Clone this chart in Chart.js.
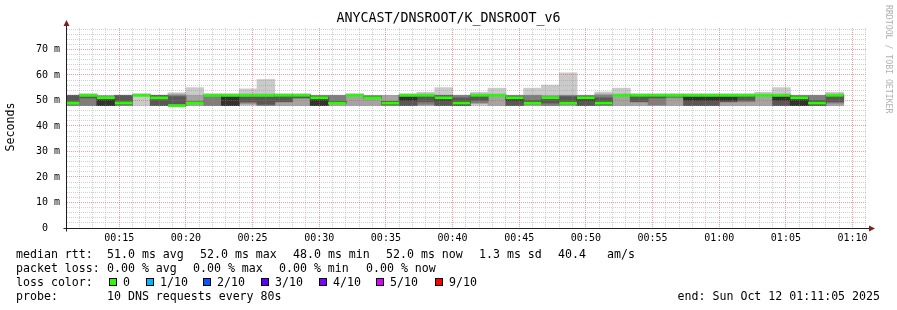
<!DOCTYPE html>
<html><head><meta charset="utf-8">
<script src="https://cdn.jsdelivr.net/npm/chart.js@4/dist/chart.umd.min.js"></script>
<style>html,body{margin:0;padding:0;background:#fff}#wrap{width:897px;height:310px}</style>
</head><body><div id="wrap"><canvas id="c" width="897" height="310"></canvas></div>
<script>
// ---- data -------------------------------------------------------------
const chartTitle = 'ANYCAST/DNSROOT/K_DNSROOT_v6';
const windowStart = '00:11:05';
const windowEnd = '01:11:05';
const stepSeconds = 80;
// end time of each 80 s probe round
const stepEnds = ['00:12:00','00:13:20','00:14:40','00:16:00','00:17:20','00:18:40','00:20:00','00:21:20','00:22:40','00:24:00',
  '00:25:20','00:26:40','00:28:00','00:29:20','00:30:40','00:32:00','00:33:20','00:34:40','00:36:00','00:37:20',
  '00:38:40','00:40:00','00:41:20','00:42:40','00:44:00','00:45:20','00:46:40','00:48:00','00:49:20','00:50:40',
  '00:52:00','00:53:20','00:54:40','00:56:00','00:57:20','00:58:40','01:00:00','01:01:20','01:02:40','01:04:00',
  '01:05:20','01:06:40','01:08:00','01:09:20'];
// sorted ping results (ms) of each round, ping1 = fastest ... ping10 = slowest
const ping1 = [48,48,48,48,48,48,47.5,48,48,48, 48,48,48,48,48,48,48,48,48,48, 48,48,48,48,48,48,48,48,48,48, 48,48,48,48,48,48,48,48,48,48, 48,48,48,48];
const ping2 = [48,48,48,48,52,48,48,48,48,48, 48.5,48,48,48,48,48,48,48,48,48, 48,48,48,49,48,48,48,48,48,48, 48,48,48,48,48,48,48,48,48,48, 48,48,48,48];
const ping3 = [48,48,48,48,52,48,48,49,48,48, 49,48,49.5,51,48,49,52,50.8,48,48, 48.5,48,48,49,52,48,48.5,48,48.5,48, 48,52,49.5,48.2,51,48,48,49.5,49.5,52, 48,48,48,49];
const ping4 = [49,51,48,48.5,52,48,48,49,52,48, 49.5,48.5,49.5,51,48,49,52,51,48.5,48, 49.5,48,48,50,52,48,49,49,49,48, 48.5,52,49.5,51,51.5,48,48,49.5,50,52, 48,48,48,49.5];
const ping5 = [49,52,48,49,52,51,48,49,52,48, 52,52,51.5,51.5,48,49,52,51,49,50, 51.5,50,49,51.5,52,50,49,50.5,49,50, 49,52,51.5,51.5,52,50,50,50,51.5,52, 50,48,49,51.5];
const ping6 = [49,52,50.5,49,52,51,48,49,52,52, 52,52,52,52,51,49.5,52,51,49.5,52, 52,51,49.5,52,52,51,49.5,51,49.5,51, 49.5,52,52,52,52,52,52,52,52,52, 52,51,49.5,52];
const ping7 = [52,52,51,52,52,52,51.5,49.5,52,52, 52,52,52,52,51.5,49.5,52,51.5,49.5,52, 52,52,51,52,52,51.5,50,51,51.5,51.5, 51,52,52,52,52,52,52,52,52,52, 52,51.5,50,52];
const ping8 = [52,52,51.5,52,52,52,52,49.5,52,52, 52,52,52,52,52,52,52,51.8,49.5,52, 52,52,52,52,52,52,52,51.5,52,52, 52,52,52,52,52,52,52,52,52,52, 52,52,52,52];
const ping9 = [52,52.5,52,52,52.5,52,52.5,52,52.5,52.5, 52.5,52.5,52.5,52.5,52,52,52.5,52,52,52.5, 52.5,52,52,52.5,52.5,52,52,52,52,52, 52.5,52.5,52.5,52.5,52.5,52.5,52.5,52.5,52.5,52.5, 52.5,52,52,52.5];
const ping10 = [52,52.5,52,52,52.5,52,53,55,52.5,52.5, 54.5,58.2,52.5,52.5,52,52,52.5,52,52,52.5, 53.2,55,52,53.2,54.8,52,54.8,56,60.8,52, 53.3,54.8,52.5,52.5,52.5,52.5,52.5,52.5,52.5,53.2, 55,52,52,53.2];
// median rtt of each round (ms)
const medianRtt = [49,52,51,49,52,51,48,49,52,52, 52,52,52,52,51,49,52,51,49,52, 52,51,49,52,52,51,49,51,49,51, 49,52,52,52,52,52,52,52,52,52, 52,51,49,52];
const xTickLabels = ['00:15','00:20','00:25','00:30','00:35','00:40','00:45','00:50','00:55','01:00','01:05','01:10'];
const yTickValues = [0,10,20,30,40,50,60,70];
const yTickLabels = ['0  ','10 m','20 m','30 m','40 m','50 m','60 m','70 m'];
const yMax = 78.4;
const lossLabels = ['0','1/10','2/10','3/10','4/10','5/10','9/10'];
const lossColors = ['#26ff00','#00b8ff','#0059ff','#5e00ff','#7e00ff','#dd00ff','#ff0000'];
const statsRtt = ['51.0 ms avg','52.0 ms max','48.0 ms min','52.0 ms now','1.3 ms sd','40.4','am/s'];
const statsLoss = ['0.00 % avg','0.00 % max','0.00 % min','0.00 % now'];
const probeText = '10 DNS requests every 80s';
const endText = 'end: Sun Oct 12 01:11:05 2025';

// ---- styles -----------------------------------------------------------
const MONO = "'DejaVu Sans Mono', monospace";
const GRID = 'rgba(143,143,143,0.42)';
const MGRID = 'rgba(222,79,79,0.55)';
const AXIS = '#1f1f1f';
const ARROW = '#801f1f';
const smokeColors = ['#cacaca','#a4a4a4','#7e7e7e','#585858','#323232'];

function toSec(s){ const p = s.split(':').map(Number); return p[0]*3600 + p[1]*60 + (p[2]||0); }
const T0 = toSec(windowStart), T1 = toSec(windowEnd);
const pings = [ping1,ping2,ping3,ping4,ping5,ping6,ping7,ping8,ping9,ping10];
const centers = stepEnds.map(t => toSec(t) - stepSeconds/2);
const majorSecs = xTickLabels.map(toSec);

const common = {type:'bar', grouped:false, barPercentage:1, categoryPercentage:1, borderWidth:0, clip:0, xAxisID:'x', yAxisID:'y'};
const datasets = [];
datasets.push(Object.assign({}, common, {
  label:'median rtt', order:0, inflateAmount:0, backgroundColor: lossColors[0],
  data: centers.map((x,k) => ({x, y:[medianRtt[k]-0.55, medianRtt[k]+0.55]}))
}));
smokeColors.forEach((col,i) => {
  datasets.push(Object.assign({}, common, {
    label:'smoke'+(i+1), order:10-i, inflateAmount:0.4, backgroundColor: col,
    data: centers.map((x,k) => {
      const lo = pings[i][k], hi = pings[9-i][k];
      return {x, y: (hi-lo) > 0.01 ? [lo,hi] : null};
    })
  }));
});

function txt(c, s, x, y, font, color, align){
  c.font = font; c.fillStyle = color; c.textAlign = align || 'left'; c.textBaseline = 'middle';
  c.fillText(s, x, y);
}

const frame = {
  id:'frame',
  beforeDraw(chart){ const c = chart.ctx; c.save(); c.fillStyle = '#fff'; c.fillRect(0,0,chart.width,chart.height); c.restore(); },
  afterDraw(chart){
    const c = chart.ctx, a = chart.chartArea;
    const y0 = Math.round(chart.scales.y.getPixelForValue(0)) + 0.5;
    const xl = Math.round(a.left) - 0.5;
    c.save();
    c.strokeStyle = AXIS; c.lineWidth = 1;
    c.beginPath(); c.moveTo(xl, y0 + 3); c.lineTo(xl, a.top - 4); c.stroke();
    c.beginPath(); c.moveTo(xl - 3, y0); c.lineTo(a.right + 3, y0); c.stroke();
    c.fillStyle = ARROW;
    c.beginPath(); c.moveTo(xl - 3, a.top - 2); c.lineTo(xl + 3, a.top - 2); c.lineTo(xl, a.top - 8); c.closePath(); c.fill();
    c.beginPath(); c.moveTo(a.right + 2, y0 - 3); c.lineTo(a.right + 2, y0 + 3); c.lineTo(a.right + 8, y0); c.closePath(); c.fill();

    const TF = '13.3px ' + MONO, LF = '11.6px ' + MONO;
    txt(c, chartTitle, chart.width/2, 19, TF, '#000', 'center');
    c.save(); c.translate(11, 127); c.rotate(-Math.PI/2); txt(c, 'Seconds', 0, 0, LF, '#000', 'center'); c.restore();
    c.save(); c.translate(888, 5); c.rotate(Math.PI/2); txt(c, 'RRDTOOL / TOBI OETIKER', 0, 0, '8.2px ' + MONO, '#b0b0b0', 'left'); c.restore();

    const r1 = 254.5, r2 = 268.5, r3 = 282.5, r4 = 296.5;
    txt(c, 'median rtt:', 16, r1, LF, '#000');
    const rttX = [107, 200, 293, 386, 479, 558, 607];
    statsRtt.forEach((s,i) => txt(c, s, rttX[i], r1, LF, '#000'));
    txt(c, 'packet loss:', 16, r2, LF, '#000');
    const lossX = [107, 193, 279, 366];
    statsLoss.forEach((s,i) => txt(c, s, lossX[i], r2, LF, '#000'));
    txt(c, 'loss color:', 16, r3, LF, '#000');
    const boxX = [109, 146, 203, 261, 319, 376, 435];
    lossLabels.forEach((s,i) => {
      c.fillStyle = lossColors[i]; c.fillRect(boxX[i], r3 - 4.5, 8, 8);
      c.strokeStyle = '#000'; c.lineWidth = 1; c.strokeRect(boxX[i] + 0.5, r3 - 4, 7, 7);
      txt(c, s, boxX[i] + 14, r3, LF, '#000');
    });
    txt(c, 'probe:', 16, r4, LF, '#000');
    txt(c, probeText, 107, r4, LF, '#000');
    txt(c, endText, 880, r4, LF, '#000', 'right');
    c.restore();
  }
};

new Chart(document.getElementById('c'), {
  type:'bar',
  data:{ datasets },
  options:{
    responsive:false, animation:false, devicePixelRatio:1,
    layout:{ padding:{ left:0, right:30, top:28, bottom:62 } },
    plugins:{ legend:{display:false}, tooltip:{enabled:false}, title:{display:false} },
    scales:{
      x:{
        type:'linear', position:'bottom', min:T0, max:T1, offset:false, weight:2,
        afterBuildTicks: s => { s.ticks = majorSecs.map(v => ({value: v})); },
        afterFit: s => { s.height = 20; },
        ticks:{ autoSkip:false, maxRotation:0, padding:4, color:'#000', font:{family:MONO, size:10},
          callback:(v,i) => xTickLabels[i] },
        grid:{ display:false, drawTicks:false, offset:false },
        border:{ display:false }
      },
      xGrid:{
        type:'linear', position:'bottom', min:T0, max:T1, offset:false, weight:1,
        afterBuildTicks: s => {
          const t = [];
          for (let v = Math.ceil(T0/60)*60; v <= T1; v += 60) t.push({value:v});
          s.ticks = t;
        },
        afterFit: s => { s.height = 0; },
        ticks:{ display:false, autoSkip:false },
        grid:{ color: ctx => (ctx.tick && majorSecs.indexOf(ctx.tick.value) >= 0 ? MGRID : GRID),
               lineWidth:1, drawTicks:false, offset:false, z:1 },
        border:{ display:false, dash:[1,1] }
      },
      y:{
        type:'linear', min:0, max:yMax,
        afterBuildTicks: s => { const t = []; for (let v = 0; v <= yMax; v += 2) t.push({value:v}); s.ticks = t; },
        afterFit: s => { s.width = 67; },
        ticks:{ autoSkip:false, padding:7, color:'#000', font:{family:MONO, size:10},
          callback:(v) => { const k = yTickValues.indexOf(v); return k >= 0 ? yTickLabels[k] : ''; } },
        grid:{ color: ctx => (ctx.tick && yTickValues.indexOf(ctx.tick.value) >= 0 ? MGRID : GRID), lineWidth:1, drawTicks:false, z:1 },
        border:{ display:false, dash:[1,1] }
      }
    }
  },
  plugins:[frame]
});
</script>
</body></html>
